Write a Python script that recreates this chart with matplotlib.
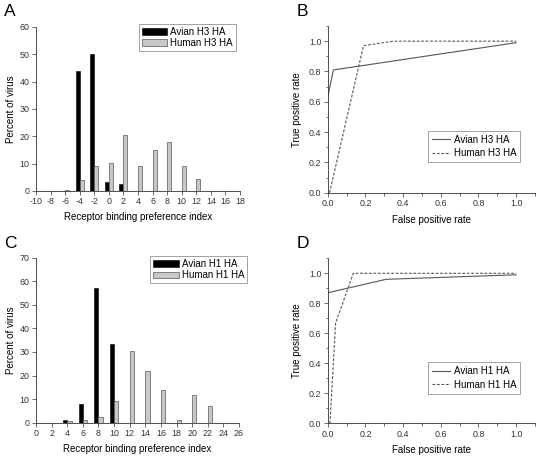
import matplotlib
matplotlib.use("Agg")
import matplotlib.pyplot as plt
import numpy as np
from matplotlib.ticker import MultipleLocator

plt.rcParams['font.family'] = ['Liberation Sans', 'DejaVu Sans']
plt.rcParams['axes.unicode_minus'] = False

# Panel A data
a_x = [-6, -4, -2, 0, 2, 4, 6, 8, 10, 12]
a_avian = [0, 44, 50, 3.2, 2.5, 0, 0, 0, 0, 0]
a_human = [0.3, 4.2, 9, 10.3, 20.5, 9.2, 15, 18, 9.2, 4.4]

# Panel C data
c_x = [4, 6, 8, 10, 12, 14, 16, 18, 20, 22]
c_avian = [1.3, 8, 57.3, 33.3, 0, 0, 0, 0, 0, 0]
c_human = [0.6, 1.2, 2.5, 9.2, 30.6, 21.8, 14, 1.1, 11.9, 7.2]

# Panel B ROC
b_avian_fpr = [0.0, 0.03, 1.0]
b_avian_tpr = [0.63, 0.81, 0.99]
b_human_fpr = [0.01, 0.19, 0.35, 1.0]
b_human_tpr = [0.0, 0.97, 1.0, 1.0]

# Panel D ROC
d_avian_fpr = [0.0, 0.31, 1.0]
d_avian_tpr = [0.87, 0.96, 0.99]
d_human_fpr = [0.012, 0.042, 0.136, 1.0]
d_human_tpr = [0.0, 0.67, 1.0, 1.0]

W, H = 537, 457
fig = plt.figure(figsize=(W / 100, H / 100), dpi=100)


def px_axes(left, top, right, bottom):
    return fig.add_axes([left / W, 1 - bottom / H, (right - left) / W, (bottom - top) / H])


TICK_FS = 6.4
LABEL_FS = 7.0
LEG_FS = 7.0
LINE_C = '#555555'


def style(ax):
    for s in ['top', 'right']:
        ax.spines[s].set_visible(False)
    for s in ['left', 'bottom']:
        ax.spines[s].set_linewidth(0.6)
        ax.spines[s].set_color('#333333')
    ax.tick_params(which='major', direction='out', length=3, width=0.5,
                   labelsize=TICK_FS, pad=1.5, colors='#333333')
    ax.tick_params(which='minor', direction='out', length=1.8, width=0.5, colors='#333333')


def bars(ax, x, av, hu, labels, xlim, ylim, ystep, legend_anchor):
    x = np.array(x, dtype=float)
    w = 0.55
    ax.bar(x - w / 2, av, width=w, color='black', edgecolor='black', linewidth=0.4, label=labels[0])
    ax.bar(x + w / 2, hu, width=w, color='#c8c8c8', edgecolor='#555555', linewidth=0.5, label=labels[1])
    ax.set_xlim(*xlim)
    ax.set_ylim(*ylim)
    ax.xaxis.set_major_locator(MultipleLocator(2))
    ax.yaxis.set_major_locator(MultipleLocator(ystep))
    style(ax)
    ax.set_xlabel('Receptor binding preference index', fontsize=LABEL_FS, labelpad=4)
    ax.set_ylabel('Percent of virus', fontsize=LABEL_FS, labelpad=3)
    leg = ax.legend(loc='upper right', bbox_to_anchor=legend_anchor, borderaxespad=0,
                    fontsize=LEG_FS, frameon=True, fancybox=False, handlelength=2.6,
                    handleheight=0.7, handletextpad=0.3, borderpad=0.3, labelspacing=0.15)
    leg.get_frame().set_edgecolor('#777777')
    leg.get_frame().set_linewidth(0.6)


def roc(ax, av, hu, labels, legend_anchor):
    ax.plot(av[0], av[1], color=LINE_C, lw=0.8, label=labels[0])
    ax.plot(hu[0], hu[1], color=LINE_C, lw=0.8, ls=(0, (2.5, 1.5)), label=labels[1])
    ax.set_xlim(0, 1.1)
    ax.set_ylim(0, 1.1)
    ax.xaxis.set_major_locator(MultipleLocator(0.2))
    ax.xaxis.set_minor_locator(MultipleLocator(0.1))
    ax.yaxis.set_major_locator(MultipleLocator(0.2))
    ax.yaxis.set_minor_locator(MultipleLocator(0.1))
    ax.xaxis.set_major_formatter(plt.FuncFormatter(lambda v, p: f'{v:.1f}'))
    ax.yaxis.set_major_formatter(plt.FuncFormatter(lambda v, p: f'{v:.1f}'))
    style(ax)
    ax.set_xlabel('False positive rate', fontsize=LABEL_FS, labelpad=5)
    ax.set_ylabel('True positive rate', fontsize=LABEL_FS, labelpad=5)
    leg = ax.legend(loc='lower right', bbox_to_anchor=legend_anchor, borderaxespad=0,
                    fontsize=LEG_FS, frameon=True, fancybox=False, handlelength=1.9,
                    handletextpad=0.4, borderpad=0.4, labelspacing=0.35)
    leg.get_frame().set_edgecolor('#777777')
    leg.get_frame().set_linewidth(0.6)


axA = px_axes(36, 27, 240, 191)
bars(axA, a_x, a_avian, a_human, ['Avian H3 HA', 'Human H3 HA'], (-10, 18), (0, 60), 10, (0.98, 1.02))

axB = px_axes(327.7, 26, 535, 192.7)
roc(axB, (b_avian_fpr, b_avian_tpr), (b_human_fpr, b_human_tpr), ['Avian H3 HA', 'Human H3 HA'], (0.93, 0.184))

axC = px_axes(36, 257.7, 239, 422.7)
bars(axC, c_x, c_avian, c_human, ['Avian H1 HA', 'Human H1 HA'], (0, 26), (0, 70), 10, (1.04, 1.01))

axD = px_axes(327.7, 258.3, 535, 423.3)
roc(axD, (d_avian_fpr, d_avian_tpr), (d_human_fpr, d_human_tpr), ['Avian H1 HA', 'Human H1 HA'], (0.93, 0.18))

for lbl, x, y in [('A', 4, 4), ('B', 297, 4), ('C', 4, 236), ('D', 297, 236)]:
    fig.text(x / W, 1 - y / H, lbl, fontsize=12.5, ha='left', va='top')

fig.savefig('out.png', dpi=100)
